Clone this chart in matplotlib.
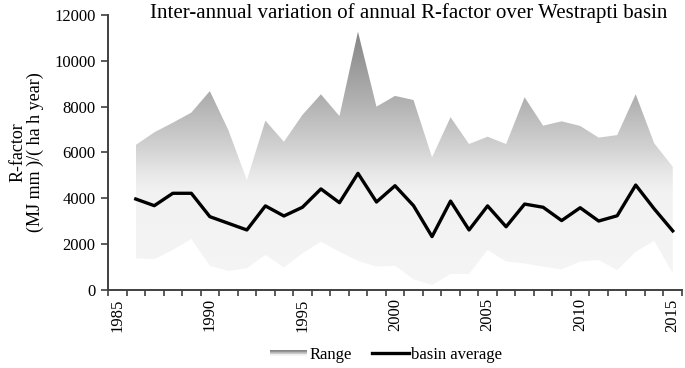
import numpy as np
import matplotlib
matplotlib.use("Agg")
import matplotlib.pyplot as plt
from matplotlib.colors import LinearSegmentedColormap
from matplotlib.legend_handler import HandlerBase
from matplotlib.lines import Line2D
from matplotlib.patches import Rectangle

plt.rcParams["font.family"] = ["Liberation Serif", "DejaVu Serif"]

years = list(range(1986, 2016))
r_max = [6330, 6880, 7300, 7740, 8680, 6980, 4800, 7390, 6470, 7640,
         8540, 7590, 11270, 8000, 8470, 8290, 5790, 7540, 6370, 6690,
         6370, 8410, 7170, 7360, 7160, 6650, 6760, 8540, 6400, 5380]
r_min = [1380, 1340, 1750, 2230, 1060, 830, 950, 1530, 980, 1600,
         2110, 1670, 1270, 1020, 1060, 470, 220, 700, 700, 1750,
         1240, 1160, 1020, 900, 1240, 1310, 870, 1670, 2150, 730]
r_avg = [3970, 3680, 4220, 4220, 3200, 2910, 2620, 3670, 3230, 3610,
         4410, 3810, 5090, 3840, 4550, 3680, 2330, 3880, 2620, 3670,
         2760, 3750, 3610, 3030, 3590, 3010, 3240, 4580, 3540, 2580]
year_labels = list(range(1985, 2016, 5))

grey_cmap = LinearSegmentedColormap.from_list(
    "range_grey",
    [(0.0, "#f5f5f5"), (0.38, "#f2f2f2"), (0.45, "#e8e8e8"),
     (0.55, "#d2d2d2"), (0.72, "#b3b3b3"), (1.0, "#858585")])


class GradientHandler(HandlerBase):
    # legend swatch drawn as a small vertical grey gradient
    def create_artists(self, legend, orig_handle, xdescent, ydescent,
                       width, height, fontsize, trans):
        n = 8
        artists = []
        for i in range(n):
            c = grey_cmap(0.3 + 0.7 * (i / (n - 1)))
            artists.append(Rectangle((-xdescent, -ydescent + height * 0.3 + i * height * 0.45 / n),
                                     width, height * 0.45 / n, facecolor=c,
                                     edgecolor="none", transform=trans))
        return artists


fig = plt.figure(figsize=(6.85, 3.68), dpi=100)
ax = fig.add_axes([108 / 685, 1 - 290 / 368, 574 / 685, 275 / 368])

x = np.array(years)
poly = ax.fill_between(x, r_min, r_max, facecolor="none", edgecolor="none")
ytop = max(r_max)
grad = np.linspace(0, 1, 256).reshape(-1, 1)
img = ax.imshow(grad, cmap=grey_cmap, origin="lower", aspect="auto",
                extent=[years[0], years[-1], 0, ytop], zorder=1)
img.set_clip_path(poly.get_paths()[0], transform=ax.transData)

ax.plot(x, r_avg, color="black", linewidth=2.4, zorder=3)

# category-style axis: labels at the years, tick marks between them
ax.set_xlim(1984.5, 2015.5)
ax.set_ylim(0, 12000)
ax.set_xticks(year_labels)
ax.set_xticks(np.arange(1984.5, 2016, 1.0), minor=True)
ax.set_yticks(range(0, 12001, 2000))
ax.tick_params(axis="x", which="major", length=0, labelsize=12,
               labelrotation=90, pad=6)
ax.tick_params(axis="x", which="minor", direction="out", length=4, width=1.2,
               color="#404040")
ax.tick_params(axis="y", direction="out", length=5, width=1.2,
               color="#404040", labelsize=12, pad=4)

for side in ["top", "right"]:
    ax.spines[side].set_visible(False)
for side in ["left", "bottom"]:
    ax.spines[side].set_color("#404040")
    ax.spines[side].set_linewidth(1.4)

ax.set_ylabel("R-factor\n(MJ mm )/( ha h year)", fontsize=13, linespacing=1.0)
ax.yaxis.set_label_coords(-0.111, 0.5)

fig.text(0.596, 0.965, "Inter-annual variation of annual R-factor over Westrapti basin",
         ha="center", va="center", fontsize=15)

handles = [Rectangle((0, 0), 1, 1), Line2D([0], [0], color="black", linewidth=2.4)]
fig.legend(handles, ["Range", "basin average"], loc="center",
           bbox_to_anchor=(0.564, 0.035), ncol=2, frameon=False, fontsize=12,
           handler_map={Rectangle: GradientHandler()}, handlelength=2.2,
           handletextpad=0.15, columnspacing=1.2)

fig.savefig("out.png", dpi=100)
